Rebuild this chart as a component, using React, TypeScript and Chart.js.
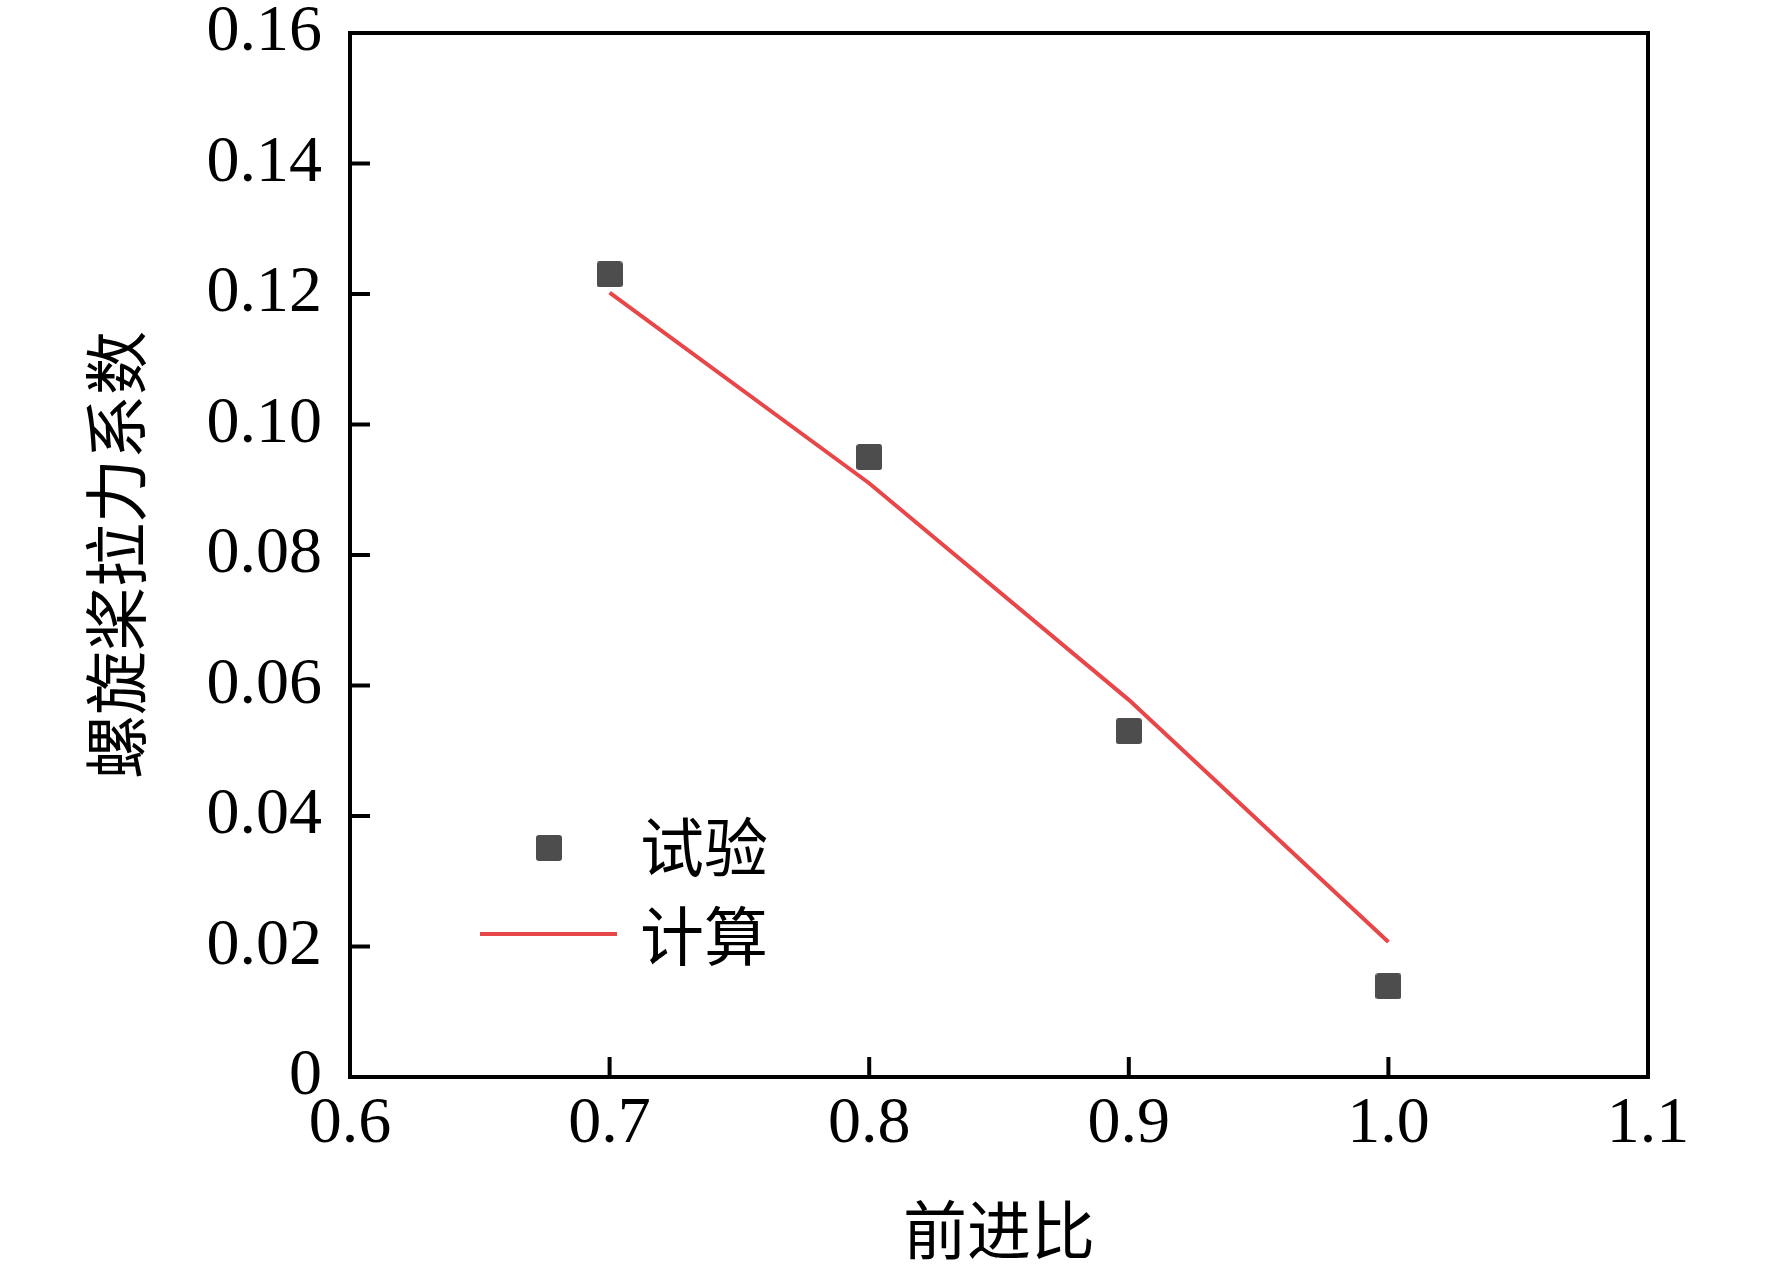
import { useEffect, useRef } from 'react';
import Chart, { ChartConfiguration, Plugin } from 'chart.js/auto';

// advance ratio J on x, thrust coefficient on y
const advanceRatio = [0.7, 0.8, 0.9, 1.0];
const thrustTest = [0.123, 0.095, 0.053, 0.0139];
const thrustCalc = [0.1202, 0.091, 0.0578, 0.0207];

const xMin = 0.6;
const xMax = 1.1;
const xStep = 0.1;
const yMin = 0;
const yMax = 0.16;
const yStep = 0.02;

const xTitle = '前进比';
const yTitle = '螺旋桨拉力系数';
const testLabel = '试验';
const calcLabel = '计算';

const W = 1772;
const H = 1273;

const markerColor = '#4d4d4d';
const lineColor = '#e8474a';
const serif = "'Liberation Serif', 'Times New Roman', serif";
const cjk = "'Noto Sans CJK SC', sans-serif";

function makeSquare(size: number, color: string) {
  const c = document.createElement('canvas');
  c.width = size;
  c.height = size;
  const ctx = c.getContext('2d')!;
  ctx.fillStyle = color;
  ctx.beginPath();
  ctx.roundRect(0, 0, size, size, 3);
  ctx.fill();
  return c;
}

// frame + inward ticks + legend
const framePlugin: Plugin = {
  id: 'frame',
  afterDraw(chart) {
    const { ctx, chartArea: a, scales } = chart;
    ctx.save();
    ctx.strokeStyle = '#000';
    ctx.lineWidth = 4;
    ctx.strokeRect(a.left, a.top, a.right - a.left, a.bottom - a.top);
    scales.x.ticks.forEach((t) => {
      const px = scales.x.getPixelForValue(t.value);
      ctx.beginPath();
      ctx.moveTo(px, a.bottom);
      ctx.lineTo(px, a.bottom - 20);
      ctx.stroke();
    });
    scales.y.ticks.forEach((t) => {
      const py = scales.y.getPixelForValue(t.value);
      ctx.beginPath();
      ctx.moveTo(a.left, py);
      ctx.lineTo(a.left + 20, py);
      ctx.stroke();
    });

    // legend
    const sets = chart.data.datasets;
    const lx = a.left;
    const ly = a.top;
    ctx.fillStyle = markerColor;
    ctx.beginPath();
    ctx.roundRect(lx + 186, ly + 802, 26, 26, 3);
    ctx.fill();
    ctx.strokeStyle = lineColor;
    ctx.lineWidth = 4;
    ctx.beginPath();
    ctx.moveTo(lx + 130, ly + 901);
    ctx.lineTo(lx + 267, ly + 901);
    ctx.stroke();
    ctx.fillStyle = '#000';
    ctx.font = `64px ${cjk}`;
    ctx.textBaseline = 'middle';
    ctx.textAlign = 'left';
    ctx.fillText(String(sets[0].label), lx + 290, ly + 814);
    ctx.fillText(String(sets[1].label), lx + 290, ly + 903);
    ctx.restore();
  },
};

export default function App() {
  const chartRef = useRef<HTMLCanvasElement | null>(null);
  const chartInstance = useRef<Chart | null>(null);

  useEffect(() => {
    if (!chartRef.current) return;
    const ctx = chartRef.current.getContext('2d');
    if (!ctx) return;
    if (chartInstance.current) chartInstance.current.destroy();

    const square = makeSquare(26, markerColor);

    chartInstance.current = new Chart(ctx, {
      type: 'scatter',
      data: {
        datasets: [
          {
            label: testLabel,
            data: advanceRatio.map((x, i) => ({ x, y: thrustTest[i] })),
            pointStyle: square,
            pointRadius: 13,
            backgroundColor: markerColor,
          },
          {
            label: calcLabel,
            data: advanceRatio.map((x, i) => ({ x, y: thrustCalc[i] })),
            showLine: true,
            borderColor: lineColor,
            borderWidth: 4,
            pointRadius: 0,
            tension: 0,
          },
        ],
      },
      options: {
        responsive: false,
        animation: false,
        events: [],
        layout: { padding: { top: 33, right: W - 1648, left: 0, bottom: 0 } },
        plugins: {
          legend: { display: false },
          tooltip: { enabled: false },
        },
        scales: {
          x: {
            type: 'linear',
            min: xMin,
            max: xMax,
            afterFit: (s: any) => {
              s.height = H - 1077;
              s.paddingLeft = 0;
              s.paddingRight = 0;
            },
            ticks: {
              stepSize: xStep,
              padding: 15,
              color: '#000',
              font: { family: serif, size: 66, lineHeight: 1 },
              callback: (v: any) => Number(v).toFixed(1),
            },
            grid: { display: false, drawTicks: false },
            border: { display: false },
            title: {
              display: true,
              text: xTitle,
              color: '#000',
              font: { family: cjk, size: 64, lineHeight: 1 },
              padding: { top: 0, bottom: 11 },
            },
          },
          y: {
            type: 'linear',
            min: yMin,
            max: yMax,
            afterFit: (s: any) => {
              s.width = 350;
              s.paddingTop = 0;
              s.paddingBottom = 0;
            },
            ticks: {
              stepSize: yStep,
              padding: 28,
              color: '#000',
              font: { family: serif, size: 66, lineHeight: 1 },
              callback: (v: any) => (Number(v) === 0 ? '0' : Number(v).toFixed(2)),
            },
            grid: { display: false, drawTicks: false },
            border: { display: false },
            title: {
              display: true,
              text: yTitle,
              color: '#000',
              font: { family: cjk, size: 64, lineHeight: 1 },
              padding: { top: 84, bottom: 0 },
            },
          },
        },
      },
      plugins: [framePlugin],
    } as ChartConfiguration);

    return () => {
      if (chartInstance.current) {
        chartInstance.current.destroy();
        chartInstance.current = null;
      }
    };
  }, []);

  return (
    <div style={{ position: 'absolute', left: 0, top: 0, width: W, height: H, background: '#fff' }}>
      <canvas ref={chartRef} width={W} height={H} style={{ width: W, height: H }} />
    </div>
  );
}
